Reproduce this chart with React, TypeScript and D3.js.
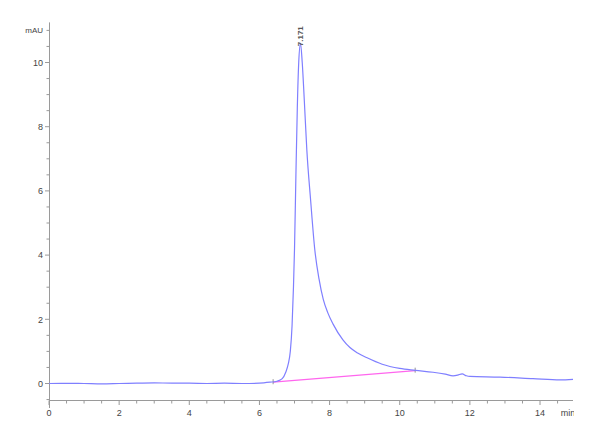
import { useEffect, useRef } from 'react'
import * as d3 from 'd3'

// chromatogram trace (min, mAU)
const traceTime = [
    0, 0.5, 1, 1.5, 2, 2.5, 3, 3.5, 4, 4.5, 5, 5.5, 6, 6.3, 6.5, 6.65, 6.75, 6.82, 6.88, 6.93,
    6.97, 7.0, 7.04, 7.08, 7.12, 7.171, 7.22, 7.28, 7.35, 7.46, 7.58, 7.7, 7.82, 7.95, 8.1,
    8.38, 8.58, 8.8, 9.07, 9.5, 10.0, 10.45, 10.95, 11.3, 11.52, 11.65, 11.78, 11.9, 12.0, 12.86,
    13.8, 14.57, 14.94,
]
const traceAbs = [
    0, 0.005, 0, -0.01, 0, 0.01, 0.02, 0.01, 0.01, 0, 0.01, 0, 0.01, 0.04, 0.07, 0.15, 0.35, 0.6,
    1.0, 1.8, 3.0, 4.2, 6.5, 8.6, 10.0, 10.6, 10.0, 8.8, 7.3, 5.7, 4.15, 3.25, 2.62, 2.2, 1.85,
    1.36, 1.12, 0.95, 0.8, 0.6, 0.47, 0.41, 0.35, 0.29, 0.24, 0.26, 0.3, 0.24, 0.22, 0.2, 0.15,
    0.11, 0.13,
]

// integration baseline under the peak
const baseTime = [6.39, 10.44]
const baseAbs = [0.04, 0.4]

const peakLabel = '7.171'
const peakTime = 7.171
const peakTop = 10.6

const xMajor = [0, 2, 4, 6, 8, 10, 12, 14]
const yMajor = [0, 2, 4, 6, 8, 10]

export default function App() {
    const svgRef = useRef<SVGSVGElement>(null)

    useEffect(() => {
        if (!svgRef.current) return
        const svg = d3.select(svgRef.current)
        svg.selectAll('*').remove()

        const x = d3.scaleLinear().domain([0, 15]).range([49, 575.1])
        const y = d3.scaleLinear().domain([0, 10]).range([383.5, 62.5])
        const axisColor = '#9a9a9a'
        const textColor = '#444'
        const font = 'Liberation Sans, Arial, sans-serif'

        svg.append('defs').append('clipPath').attr('id', 'pageclip')
            .append('rect').attr('x', 0).attr('y', 0).attr('width', 574).attr('height', 440)

        // x axis
        const xAxis = svg.append('g')
        xAxis.append('line')
            .attr('x1', x(0)).attr('x2', x(14.94))
            .attr('y1', 400.5).attr('y2', 400.5)
            .attr('stroke', axisColor)
        const xMinor = d3.range(0, 15, 0.5)
        xAxis.selectAll('.xt').data(xMinor).enter().append('line')
            .attr('x1', d => x(d)).attr('x2', d => x(d))
            .attr('y1', 400.5).attr('y2', d => (d % 2 === 0 ? 405 : 403.5))
            .attr('stroke', axisColor)
        xAxis.selectAll('.xl').data(xMajor).enter().append('text')
            .attr('x', d => x(d)).attr('y', 416)
            .attr('text-anchor', 'middle')
            .attr('font-family', font).attr('font-size', '9px').attr('fill', textColor)
            .text(d => d)
        xAxis.append('text')
            .attr('x', 568).attr('y', 416)
            .attr('text-anchor', 'middle')
            .attr('font-family', font).attr('font-size', '9px').attr('fill', textColor)
            .attr('clip-path', 'url(#pageclip)')
            .text('min')

        // y axis
        const yAxis = svg.append('g')
        yAxis.append('line')
            .attr('x1', 49.5).attr('x2', 49.5)
            .attr('y1', y(11.25)).attr('y2', 408)
            .attr('stroke', axisColor)
        const yMinor = d3.range(-0.5, 11.01, 0.5)
        yAxis.selectAll('.yt').data(yMinor).enter().append('line')
            .attr('x1', d => (d % 2 === 0 && d <= 10 ? 45 : 46.5)).attr('x2', 49.5)
            .attr('y1', d => y(d)).attr('y2', d => y(d))
            .attr('stroke', axisColor)
        yAxis.selectAll('.yl').data(yMajor).enter().append('text')
            .attr('x', 43).attr('y', d => y(d) + 3.2)
            .attr('text-anchor', 'end')
            .attr('font-family', font).attr('font-size', '9px').attr('fill', textColor)
            .text(d => d)
        yAxis.append('text')
            .attr('x', 43).attr('y', y(11) + 3)
            .attr('text-anchor', 'end')
            .attr('font-family', font).attr('font-size', '8px').attr('fill', textColor)
            .text('mAU')

        // baseline
        const basePts = baseTime.map((t, i) => [t, baseAbs[i]] as [number, number])
        svg.append('path')
            .datum(basePts)
            .attr('fill', 'none')
            .attr('stroke', '#ff66ee')
            .attr('stroke-width', 1.2)
            .attr('d', d3.line().x(d => x(d[0])).y(d => y(d[1])))
        svg.selectAll('.bm').data(basePts).enter().append('line')
            .attr('x1', d => x(d[0])).attr('x2', d => x(d[0]))
            .attr('y1', d => y(d[1]) - 3).attr('y2', d => y(d[1]) + 2)
            .attr('stroke', '#777').attr('stroke-width', 0.8)

        // trace
        const tracePts = traceTime.map((t, i) => [t, traceAbs[i]] as [number, number])
        svg.append('path')
            .datum(tracePts)
            .attr('fill', 'none')
            .attr('stroke', '#7f7fff')
            .attr('stroke-width', 1.2)
            .attr('d', d3.line().curve(d3.curveMonotoneX).x(d => x(d[0])).y(d => y(d[1])))

        // peak label
        svg.append('text')
            .attr('transform', `translate(${x(peakTime) + 2.5}, ${y(peakTop) + 3}) rotate(-90)`)
            .attr('font-family', font).attr('font-size', '8px').attr('font-weight', 'bold')
            .attr('fill', '#555')
            .text(peakLabel)
    }, [])

    return (
        <svg
            ref={svgRef}
            width={600}
            height={440}
            style={{ position: 'absolute', left: 0, top: 0, background: '#fff' }}
        />
    )
}
